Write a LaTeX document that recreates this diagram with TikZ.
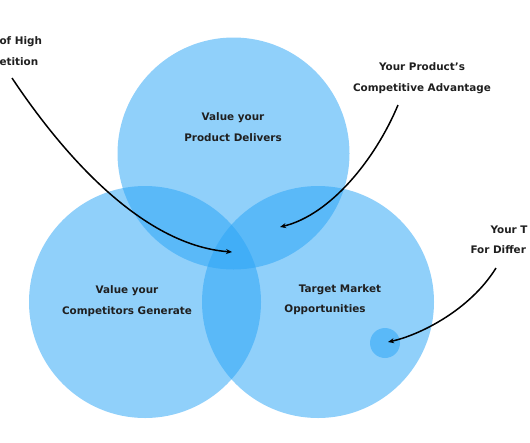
\documentclass[tikz,border=0pt]{standalone}
\usepackage{fontspec}
\setmainfont{DejaVu Sans}
\usepackage{xcolor}
\usetikzlibrary{arrows.meta}
\definecolor{vblue}{HTML}{2AA4F6}

\begin{document}
\begin{tikzpicture}[x=1pt,y=-1pt,>={Stealth[length=6pt,width=5pt]},
set/.style={circle,fill=vblue,fill opacity=0.52,minimum size=232pt,inner sep=0pt},
dot/.style={circle,fill=vblue,fill opacity=0.52,minimum size=30pt,inner sep=0pt},
lab/.style={font=\fontsize{10.4}{21}\selectfont\bfseries,align=center,text=black!88},
ptr/.style={->,line width=1.5pt,black}]
\useasboundingbox (0,0) rectangle (530,442);
\clip (0,0) rectangle (530,442);
\node[set] (prod) at (233.5,153.5) {};
\node[set] (comp) at (145,302) {};
\node[set] (mkt) at (318,302) {};
\node[dot] (diff) at (385,343) {};
\node[lab] (tprod) at (233,127) {Value your\\Product Delivers};
\node[lab] (tcomp) at (127,301) {Value your\\Competitors Generate};
\node[lab] (tmkt1) at (340,290) {Target Market};
\node[lab] (tmkt2) at (325,310) {Opportunities};
\node[lab,anchor=west] (thigh1) at (-4,42) {of High};
\node[lab,anchor=west] (thigh2) at (-4,62) {etition};
\node[lab] (tadv) at (422,78) {Your Product's\\Competitive Advantage};
\node[lab,anchor=west] (tdiff1) at (487,230) {Your T};
\node[lab,anchor=west] (tdiff2) at (467,250) {For Differ};
\coordinate (s1) at (12,78);
\coordinate (e1) at (232,252);
\coordinate (s2) at (398,105);
\coordinate (e2) at (280,227);
\coordinate (s3) at (496,268);
\coordinate (e3) at (388,342);
\draw[ptr] (s1) .. controls (60,150) and (140,245) .. (e1);
\draw[ptr] (s2) .. controls (375,160) and (330,215) .. (e2);
\draw[ptr] (s3) .. controls (470,310) and (420,335) .. (e3);
\end{tikzpicture}
\end{document}
